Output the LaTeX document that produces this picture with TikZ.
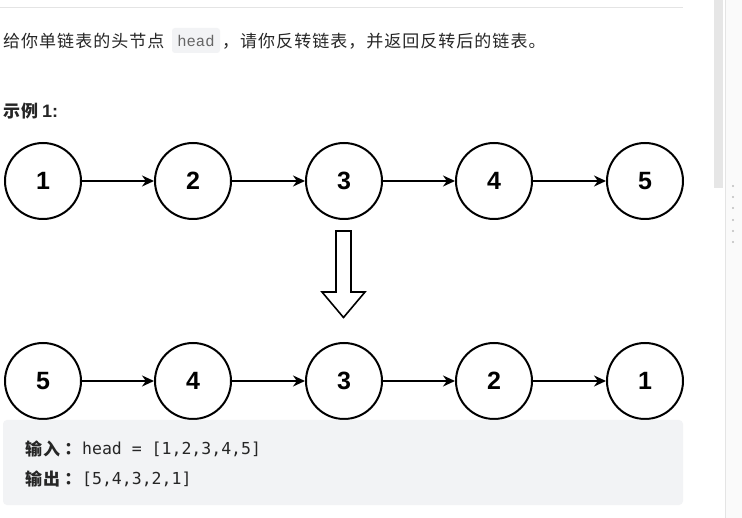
\documentclass[tikz,border=0pt]{standalone}
\usepackage{fontspec}
\usetikzlibrary{arrows.meta}
\setmainfont{Liberation Sans}
\newfontfamily\cjk[LetterSpace=6]{Noto Sans CJK SC}
\newfontfamily\cjktc{Noto Sans CJK TC}
\newfontfamily\codefont{DejaVu Sans Mono}
\newfontfamily\inlinecode{Liberation Mono}
\newfontfamily\numbold{Liberation Sans Bold}
\definecolor{txt}{HTML}{262626}
\definecolor{codebg}{HTML}{F2F3F5}
\definecolor{rule}{HTML}{E4E4E4}
\definecolor{thumb}{HTML}{E6E6E6}
\definecolor{dotc}{HTML}{BDBDBD}
\definecolor{sidebg}{HTML}{FAFAFA}
\definecolor{inlinetxt}{HTML}{666666}
\tikzset{
  listnode/.style={circle, draw=black, line width=2pt, minimum size=76pt, inner sep=0pt,
    font=\fontsize{25}{25}\selectfont\bfseries},
  link/.style={line width=2pt, -{Stealth[length=12pt,width=11pt]}},
  txtnode/.style={anchor=base west, inner sep=0pt, text=txt},
}
\begin{document}
\begin{tikzpicture}[x=1pt,y=-1pt]
\useasboundingbox (0,0) rectangle (742,518);
\fill[white] (0,0) rectangle (742,518);
% right side scrollbar area
\fill[sidebg] (725,0) rectangle (742,518);
\draw[rule, line width=1pt] (725.5,0) -- (725.5,518);
\fill[thumb] (714,0) rectangle (723,188);
\foreach \yy in {186,197,208,220,231,242} \fill[dotc] (733,\yy) circle (1.2);
% top rule
\draw[rule, line width=1pt] (0,7.5) -- (683,7.5);
% statement
\node[txtnode, font=\cjk\fontsize{17}{17}\selectfont] (t1) at (3,47.5) {给你单链表的头节点};
\node[fill=codebg, rounded corners=3pt, minimum width=48pt, minimum height=25pt, inner sep=0pt,
  font=\inlinecode\fontsize{15.5}{15.5}\selectfont, text=inlinetxt] (hd) at (196,40.5) {head};
\node[txtnode, font=\cjk\fontsize{17}{17}\selectfont] (t2) at (222,47.5) {，请你反转链表，并返回反转后的链表。};
\node[txtnode, font=\cjk\bfseries\fontsize{17}{17}\selectfont] (ex) at (3,118) {示例\hspace{4pt}{\numbold\fontsize{18}{18}\selectfont 1:}};
% top list
\foreach \i/\x in {1/43,2/193,3/344,4/494,5/645}
  \node[listnode] (a\i) at (\x,181) {\i};
\foreach \i/\j in {1/2,2/3,3/4,4/5}
  \draw[link] (a\i) -- (a\j);
% bottom list
\foreach \i/\x/\v in {1/43/5,2/193/4,3/344/3,4/494/2,5/645/1}
  \node[listnode] (b\i) at (\x,381) {\v};
\foreach \i/\j in {1/2,2/3,3/4,4/5}
  \draw[link] (b\i) -- (b\j);
% big down arrow
\draw[line width=1.6pt, line join=miter, fill=white]
  (336,231) -- (351,231) -- (351,292) -- (365,292) -- (343.5,317.5) -- (322,292) -- (336,292) -- cycle;
% code box
\node[fill=codebg, rounded corners=4pt, minimum width=680pt, minimum height=85pt, inner sep=0pt] (box) at (343,462.5) {};
\node[txtnode, font=\cjk\bfseries\fontsize{17}{17}\selectfont] (in) at (25,455.5) {输入{\cjktc\bfseries：}};
\node[txtnode, font=\codefont\fontsize{16.5}{16.5}\selectfont] (inv) at (82,455) {head = [1,2,3,4,5]};
\node[txtnode, font=\cjk\bfseries\fontsize{17}{17}\selectfont] (out) at (25,485.5) {输出{\cjktc\bfseries：}};
\node[txtnode, font=\codefont\fontsize{16.5}{16.5}\selectfont] (outv) at (82,485) {[5,4,3,2,1]};
\end{tikzpicture}
\end{document}
